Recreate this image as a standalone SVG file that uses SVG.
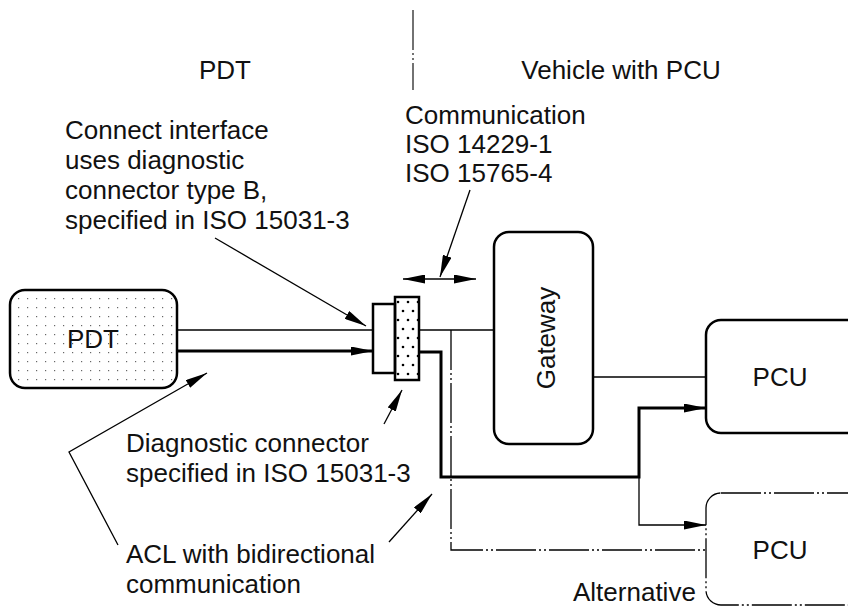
<svg xmlns="http://www.w3.org/2000/svg" width="848" height="607" viewBox="0 0 848 607">
<style>
text{font-family:"Liberation Sans",Arial,sans-serif;font-size:26px;fill:#111}
.box{fill:#fff;stroke:#000;stroke-width:2.5}
.thin{fill:none;stroke:#000;stroke-width:1.3}
.thick{fill:none;stroke:#000;stroke-width:3}
.dd{fill:none;stroke:#000;stroke-width:1.3;stroke-dasharray:40 3 2 3 2 3}
.ann{fill:none;stroke:#000;stroke-width:1.3}
</style>
<defs>
<pattern id="pdtDots" width="9" height="9" patternUnits="userSpaceOnUse" x="14" y="294"><rect x="4" y="4" width="1.2" height="1.2" fill="#666"/></pattern>
<pattern id="conDots" width="10" height="18" patternUnits="userSpaceOnUse" x="395" y="297"><circle cx="3" cy="5" r="1.3" fill="#000"/><circle cx="8" cy="14" r="1.3" fill="#000"/></pattern>
<marker id="ah" viewBox="0 0 22 9" refX="22" refY="4.5" markerWidth="22" markerHeight="9" markerUnits="userSpaceOnUse" orient="auto-start-reverse"><path d="M0,0 L22,4.5 L0,9 z" fill="#000"/></marker>
</defs>

<g id="divider">
<path d="M413,10 V90" fill="none" stroke="#444" stroke-width="1.5" stroke-dasharray="40 3 2 3 2 3"/>
</g>
<g id="labels">
<text x="225" y="79" text-anchor="middle">PDT</text>
<text x="621" y="79" text-anchor="middle">Vehicle with PCU</text>
<text x="405" y="124">Communication</text>
<text x="405" y="153">ISO 14229-1</text>
<text x="405" y="182">ISO 15765-4</text>
<text x="65" y="139">Connect interface</text>
<text x="65" y="169">uses diagnostic</text>
<text x="65" y="199">connector type B,</text>
<text x="65" y="229">specified in ISO 15031-3</text>
<text x="126" y="452">Diagnostic connector</text>
<text x="126" y="482">specified in ISO 15031-3</text>
<text x="126" y="563">ACL with bidirectional</text>
<text x="126" y="593">communication</text>
<text x="573" y="601">Alternative</text>
</g>

<g id="pdt">
<rect class="box" x="10" y="290" width="167" height="98" rx="15" style="fill:url(#pdtDots)"/>
<text x="93" y="348" text-anchor="middle">PDT</text>
</g>
<g id="connector">
<rect class="box" x="373" y="304" width="22" height="69"/>
<rect class="box" x="395" y="297" width="24" height="83" style="fill:url(#conDots)"/>
</g>
<g id="gateway">
<rect class="box" x="494" y="232" width="99" height="212" rx="15"/>
<text transform="translate(555,338) rotate(-90)" text-anchor="middle">Gateway</text>
</g>
<g id="pcu1">
<rect class="box" x="706" y="320" width="160" height="113" rx="15"/>
<text x="780" y="386" text-anchor="middle">PCU</text>
</g>
<g id="pcu2">
<rect x="706" y="493" width="160" height="112" rx="15" fill="#fff" stroke="#000" stroke-width="1.3" stroke-dasharray="40 3 2 3 2 3"/>
<text x="780" y="559" text-anchor="middle">PCU</text>
</g>

<g id="connectors">
<path class="thin" d="M177,330 H373"/>
<path class="thick" d="M177,351 H373" marker-end="url(#ah)"/>
<path class="thin" d="M419,330 H494"/>
<path class="dd" d="M451,330 V550 H706"/>
<path class="thick" d="M419,352 H441 V477 H639 V408 H706" marker-end="url(#ah)"/>
<path class="thin" d="M639,477 V525 H706" marker-end="url(#ah)"/>
<path class="thin" d="M593,377 H706"/>
<path class="thin" d="M403,279 H476" marker-start="url(#ah)" marker-end="url(#ah)"/>
<path class="ann" d="M470,190 L440,277" marker-end="url(#ah)"/>
<path class="ann" d="M215,238 L366,326" marker-end="url(#ah)"/>
<path class="ann" d="M384,424 L402,390" marker-end="url(#ah)"/>
<path class="ann" d="M389,542 L432,494" marker-end="url(#ah)"/>
<path class="ann" d="M118,545 L69,452 L207,373" marker-end="url(#ah)"/>
</g>
</svg>
